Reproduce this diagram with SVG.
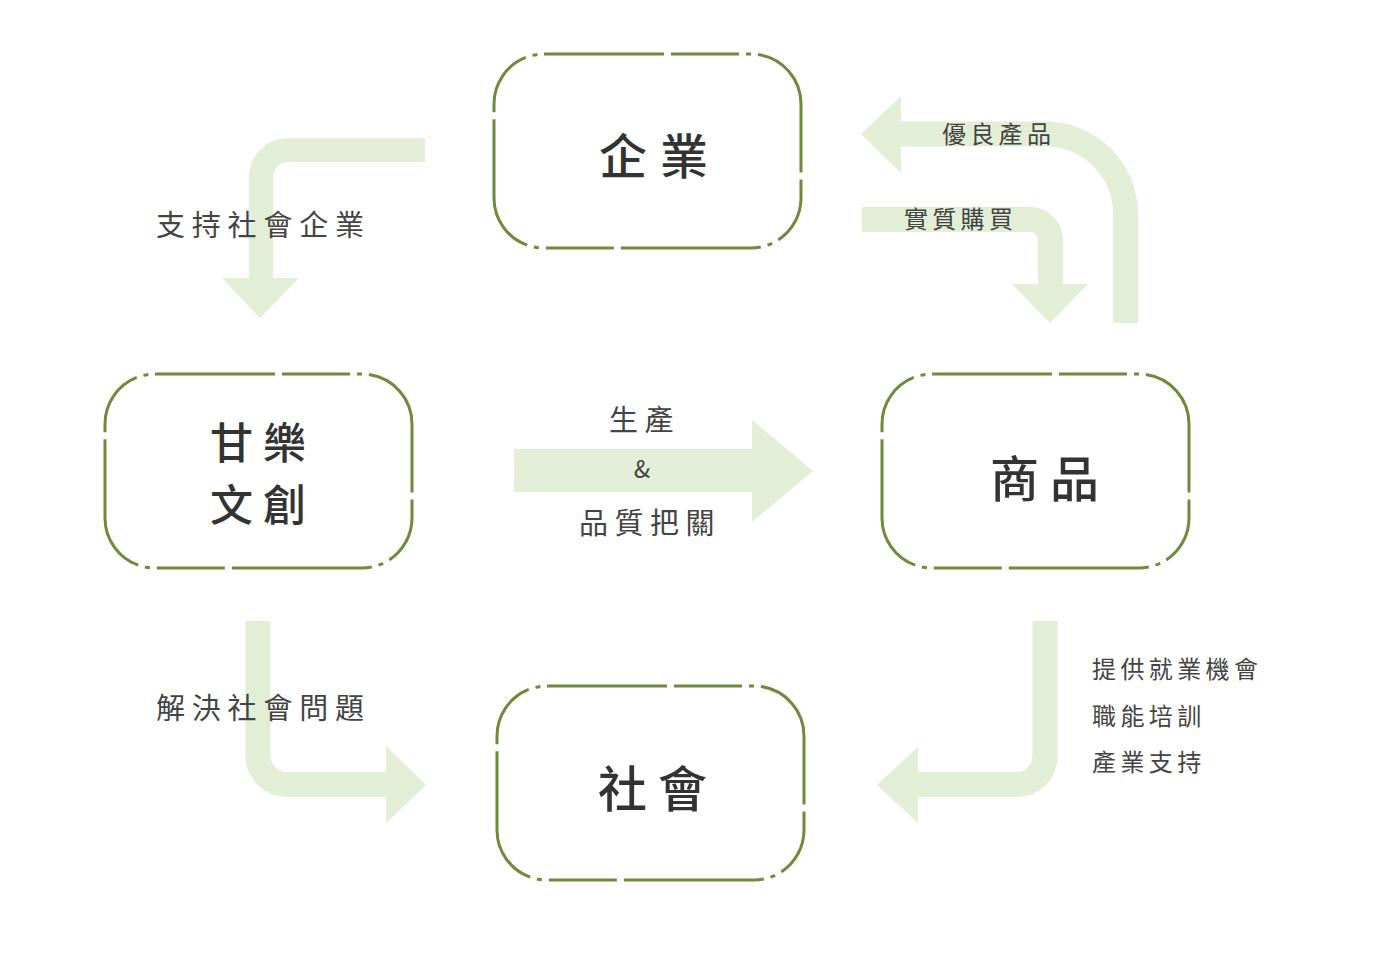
<svg xmlns="http://www.w3.org/2000/svg" width="1373" height="968" viewBox="0 0 1373 968">
<style>
.box{fill:#fff;stroke:#6f8a3c;stroke-width:3;stroke-dasharray:140 7 68 7 5 7;stroke-dashoffset:20}
.band{fill:none;stroke:#e2eed6}
.head{fill:#e2eed6}
.nl{font-family:"Noto Sans CJK TC","Noto Sans CJK SC",sans-serif;font-weight:500;fill:#333}
.lb{font-family:"Noto Sans CJK TC","Noto Sans CJK SC",sans-serif;font-weight:400;fill:#444}
</style>
<rect width="1373" height="968" fill="#fff"/>
<g id="connectors">
  <g id="c-support">
    <path class="band" stroke-width="24" d="M425,150 H288 A27,27 0 0 0 261,177 V280"/>
    <polygon class="head" points="222,278 299,278 260,318"/>
  </g>
  <g id="c-quality-products">
    <path class="band" stroke-width="25" d="M1125.5,323 V214 A80,80 0 0 0 1045.5,134 H900"/>
    <polygon class="head" points="901,96 901,173 861,134"/>
  </g>
  <g id="c-purchase">
    <path class="band" stroke-width="25" d="M862,219.5 H1030 A20.5,20.5 0 0 1 1050.5,240 V285"/>
    <polygon class="head" points="1012,284 1088,284 1050,323"/>
  </g>
  <g id="c-produce">
    <rect class="head" x="514" y="449" width="239" height="43"/>
    <polygon class="head" points="752,420 813,471 752,522"/>
  </g>
  <g id="c-employment">
    <path class="band" stroke-width="25" d="M1045,621 V756.5 A28,28 0 0 1 1017,784.5 H917"/>
    <polygon class="head" points="918,747 918,823 877,785"/>
  </g>
  <g id="c-solve">
    <path class="band" stroke-width="25" d="M258,621 V755.5 A29,29 0 0 0 287,784.5 H387"/>
    <polygon class="head" points="386,746 386,823 426,785"/>
  </g>
  <g id="labels">
    <text class="lb" x="156" y="236" font-size="29" letter-spacing="6.8">支持社會企業</text>
    <text class="lb" x="156" y="719" font-size="29" letter-spacing="6.8">解決社會問題</text>
    <text class="lb" x="942" y="143" font-size="24" letter-spacing="4.3">優良產品</text>
    <text class="lb" x="904" y="228" font-size="24" letter-spacing="4.3">實質購買</text>
    <text class="lb" x="609" y="431" font-size="29" letter-spacing="6.5">生產</text>
    <text class="lb" x="642" y="478" font-size="24" text-anchor="middle">&amp;</text>
    <text class="lb" x="579" y="534" font-size="29" letter-spacing="6.5">品質把關</text>
    <text class="lb" x="1092" y="678" font-size="24" letter-spacing="4.4">提供就業機會</text>
    <text class="lb" x="1092" y="725" font-size="24" letter-spacing="4.4">職能培訓</text>
    <text class="lb" x="1092" y="771" font-size="24" letter-spacing="4.4">產業支持</text>
  </g>
</g>
<g id="node-enterprise">
  <rect class="box" x="494" y="54" width="307" height="194" rx="50"/>
  <text class="nl" x="599 660" y="174" font-size="48">企業</text>
</g>
<g id="node-ganle">
  <rect class="box" x="105" y="374" width="307" height="194" rx="50"/>
  <text class="nl" x="210 263" y="459" font-size="43">甘樂</text>
  <text class="nl" x="210 263" y="521" font-size="43">文創</text>
</g>
<g id="node-product">
  <rect class="box" x="882" y="374" width="307" height="194" rx="50"/>
  <text class="nl" x="990 1050" y="497" font-size="49">商品</text>
</g>
<g id="node-society">
  <rect class="box" x="497" y="686" width="307" height="194" rx="50"/>
  <text class="nl" x="598 658" y="807" font-size="49">社會</text>
</g>
</svg>
